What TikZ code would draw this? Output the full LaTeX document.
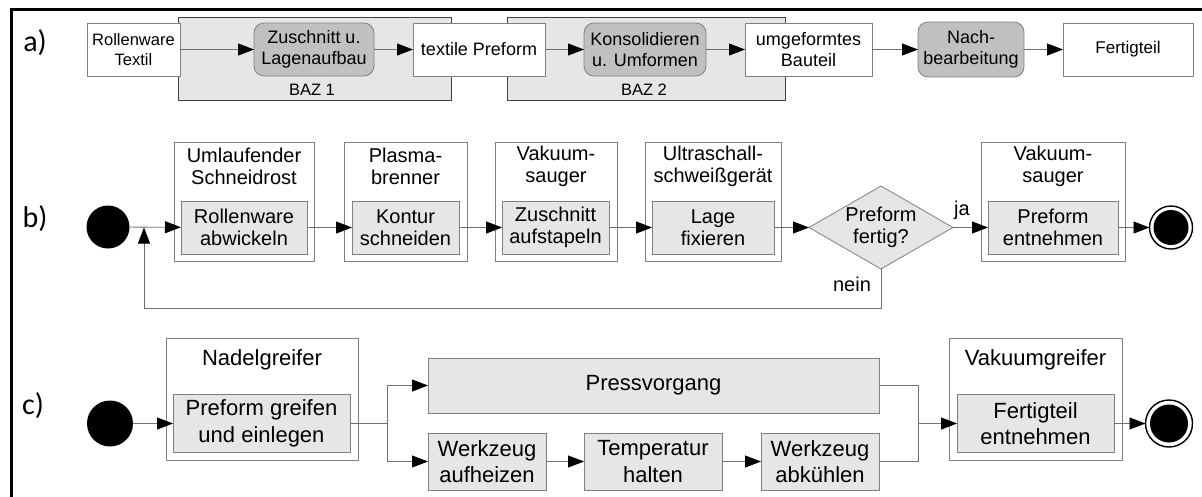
\documentclass[tikz,border=0pt]{standalone}
\usepackage{fontspec}
\setmainfont{Liberation Sans}
\newfontfamily\labfont{Carlito}
\usetikzlibrary{arrows.meta,shapes.geometric}
\definecolor{lg}{HTML}{E6E6E6}
\definecolor{mg}{HTML}{C0C0C0}
\definecolor{bd}{HTML}{808080}
\definecolor{ln}{HTML}{707070}
\begin{document}
\begin{tikzpicture}[x=1pt,y=-1pt,
 every node/.style={inner sep=0pt, outer sep=0pt, align=center},
 fa/.style={font=\fontsize{18}{20.5}\selectfont},
 fas/.style={font=\fontsize{16.5}{20.5}\selectfont},
 fbz/.style={font=\fontsize{16.5}{18}\selectfont},
 fb/.style={font=\fontsize{20}{22}\selectfont},
 fc/.style={font=\fontsize{22}{26.5}\selectfont},
 wbox/.style={draw=bd, fill=white, line width=0.8pt},
 rbox/.style={draw=bd, fill=mg, rounded corners=10pt, line width=0.8pt},
 bazbox/.style={draw=black!75, fill=lg, line width=0.9pt},
 gbox/.style={draw=bd, fill=lg, line width=0.8pt},
 conn/.style={draw=ln, line width=0.8pt, -{Triangle[length=16pt,width=12pt,color=black]}},
 plainline/.style={draw=ln, line width=0.8pt},
 lab/.style={font=\labfont\fontsize{30}{30}\selectfont},
 dot/.style={circle, fill=black, draw=none},
]
\useasboundingbox (0,0) rectangle (1202,496);
\draw[line width=3pt] (11,497) -- (11,9) -- (1203,9);

% ---------- a ----------
\node[lab] (la) at (35,43) {a)};
\node[bazbox, minimum width=273pt, minimum height=83pt] (baz1) at (314.5,58.5) {};
\node[fbz] (baz1t) at (312,90) {BAZ 1};
\node[bazbox, minimum width=278pt, minimum height=83pt] (baz2) at (646,58.5) {};
\node[fbz] (baz2t) at (644,90) {BAZ 2};
\node[wbox, fas, minimum width=93pt, minimum height=53pt] (ra) at (133.5,49.5) {Rollenware\\Textil};
\node[rbox, fa, minimum width=120pt, minimum height=53pt] (zu) at (314,49.5) {Zuschnitt u.\\Lagenaufbau};
\node[wbox, fa, minimum width=132pt, minimum height=53pt] (tp) at (479,49.5) {textile Preform};
\node[rbox, fa, minimum width=122pt, minimum height=53pt] (ko) at (645,49.5) {Konsolidieren\\u. Umformen};
\node[wbox, fa, minimum width=127pt, minimum height=53pt] (ub) at (808.5,49.5) {umgeformtes\\Bauteil};
\node[rbox, fa, minimum width=106pt, minimum height=55pt] (nb) at (971,49.5) {Nach-\\bearbeitung};
\node[wbox, font=\fontsize{17}{20}\selectfont, minimum width=130pt, minimum height=53pt] (ft) at (1128,49.5) {Fertigteil};
\draw[conn] (ra) -- (zu);
\draw[conn] (zu) -- (tp);
\draw[conn] (tp) -- (ko);
\draw[conn] (ko) -- (ub);
\draw[conn] (ub) -- (nb);
\draw[conn] (nb) -- (ft);

% ---------- b ----------
\node[lab] (lb) at (35,219) {b)};
\node[dot, minimum size=43pt] (sb) at (108,227) {};
\node[wbox, minimum width=140pt, minimum height=119pt] (o1) at (244,201.5) {};
\node[gbox, fb, minimum width=126pt, minimum height=53pt] (i1) at (244,227.5) {Rollenware\\abwickeln};
\node[fb] (t1) at (244,166) {Umlaufender\\Schneidrost};
\node[wbox, minimum width=123pt, minimum height=119pt] (o2) at (405.5,201.5) {};
\node[gbox, fb, minimum width=107pt, minimum height=53pt] (i2) at (405.5,227.5) {Kontur\\schneiden};
\node[fb] (t2) at (405.5,166) {Plasma-\\brenner};
\node[wbox, minimum width=122pt, minimum height=119pt] (o3) at (556,201.5) {};
\node[gbox, fb, minimum width=107pt, minimum height=53pt] (i3) at (555.5,227.5) {Zuschnitt\\aufstapeln};
\node[fb] (t3) at (556,166) {Vakuum-\\sauger};
\node[wbox, minimum width=136pt, minimum height=119pt] (o4) at (713,201.5) {};
\node[gbox, fb, minimum width=122pt, minimum height=53pt] (i4) at (713,227.5) {Lage\\fixieren};
\node[fb] (t4) at (713,166) {Ultraschall-\\schweißgerät};
\node[diamond, draw=bd, fill=lg, line width=0.8pt, minimum width=144pt, minimum height=83pt] (d) at (881,227.5) {};
\node[fb] (dt) at (881,227) {Preform\\fertig?};
\node[wbox, minimum width=144pt, minimum height=119pt] (o5) at (1053,201.5) {};
\node[gbox, fb, minimum width=130pt, minimum height=53pt] (i5) at (1053,227.5) {Preform\\entnehmen};
\node[fb] (t5) at (1053,166) {Vakuum-\\sauger};
\node[circle, draw=black, line width=1.4pt, fill=white, minimum size=43pt] (eb) at (1171,227.5) {};
\node[dot, minimum size=35pt] (ebi) at (eb) {};
\node[fb] (ja) at (962,210) {ja};
\node[fb] (nein) at (852,284) {nein};
\coordinate (lpA) at (881,308);
\coordinate (lpB) at (144,308);
\coordinate (lpC) at (144,227.5);
\draw[conn] (sb) -- (i1);
\draw[conn] (i1) -- (i2);
\draw[conn] (i2) -- (i3);
\draw[conn] (i3) -- (i4);
\draw[conn] (i4) -- (d);
\draw[conn] (d) -- (i5);
\draw[conn] (i5) -- (eb);
\draw[conn] (d.south) -- (lpA) -- (lpB) -- (lpC);

% ---------- c ----------
\node[lab] (lc) at (33,406) {c)};
\node[dot, minimum size=46pt] (sc) at (110,423.5) {};
\node[wbox, minimum width=192pt, minimum height=122pt] (on) at (262,399) {};
\node[gbox, fc, minimum width=177pt, minimum height=58pt] (in) at (261.5,423.5) {Preform greifen\\und einlegen};
\node[fc] (tn) at (262,360) {Nadelgreifer};
\node[gbox, fc, minimum width=451pt, minimum height=55pt] (pv) at (653.5,385.5) {Pressvorgang};
\node[gbox, fc, minimum width=118pt, minimum height=57pt] (w1) at (487,461.5) {Werkzeug\\aufheizen};
\node[gbox, fc, minimum width=138pt, minimum height=57pt] (w2) at (653,461.5) {Temperatur\\halten};
\node[gbox, fc, minimum width=118pt, minimum height=57pt] (w3) at (820,461.5) {Werkzeug\\abkühlen};
\node[wbox, minimum width=173pt, minimum height=122pt] (ov) at (1035.5,399) {};
\node[gbox, fc, minimum width=157pt, minimum height=58pt] (iv) at (1035.5,423.5) {Fertigteil\\entnehmen};
\node[fc] (tv) at (1035.5,360) {Vakuumgreifer};
\node[circle, draw=black, line width=1.4pt, fill=white, minimum size=47pt] (ec) at (1169,423.5) {};
\node[dot, minimum size=38pt] (eci) at (ec) {};
\coordinate (sp) at (387,423.5);
\coordinate (spT) at (387,385.5);
\coordinate (spB) at (387,461.5);
\coordinate (jn) at (918,423.5);
\draw[conn] (sc) -- (in);
\draw[plainline] (in) -- (sp);
\draw[plainline] (spT) -- (spB);
\draw[conn] (spT) -- (pv);
\draw[conn] (spB) -- (w1);
\draw[conn] (w1) -- (w2);
\draw[conn] (w2) -- (w3);
\draw[plainline] (pv.east) -| (jn);
\draw[plainline] (w3.east) -| (jn);
\draw[conn] (jn) -- (iv);
\draw[conn] (iv) -- (ec);
\end{tikzpicture}
\end{document}
